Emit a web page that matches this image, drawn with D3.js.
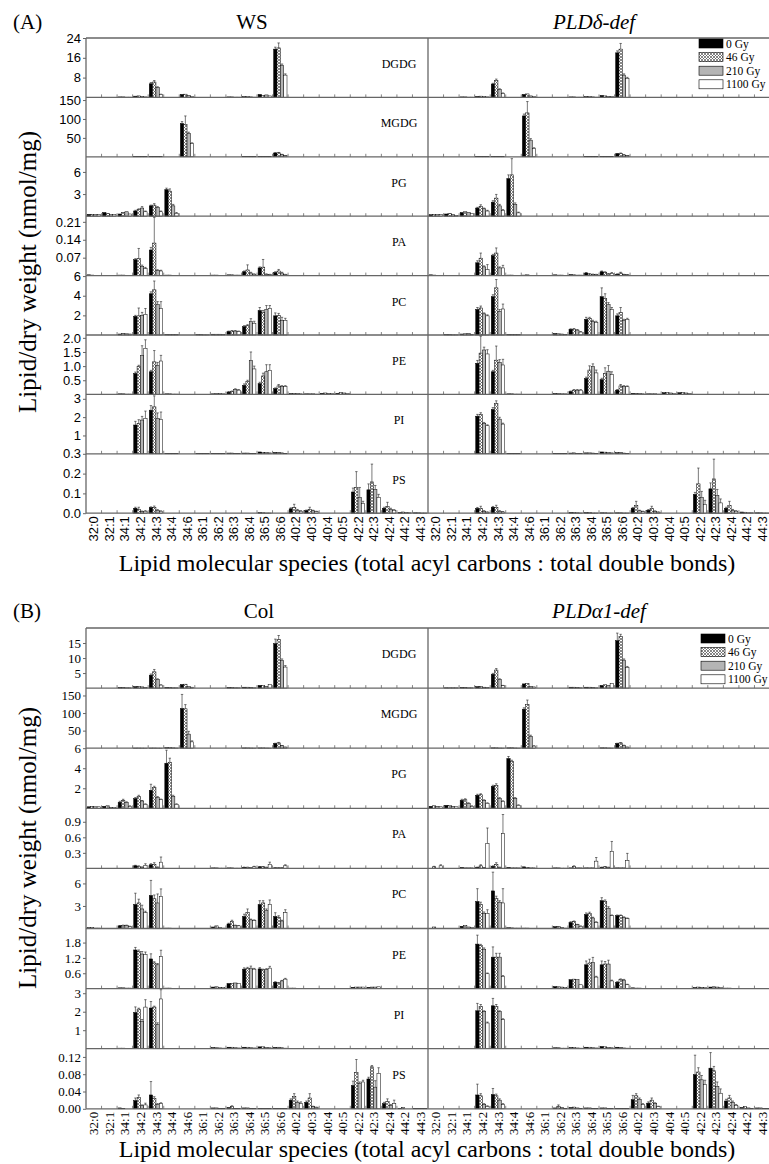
<!DOCTYPE html>
<html><head><meta charset="utf-8">
<script src="https://cdn.jsdelivr.net/npm/d3@7"></script>
<style>body{margin:0;background:#fff}</style>
</head><body><svg id="c" width="769" height="1164"></svg>
<script>
const categories = ["32:0","32:1","34:1","34:2","34:3","34:4","34:6","36:1","36:2","36:3","36:4","36:5","36:6","40:2","40:3","40:4","40:5","42:2","42:3","42:4","44:2","44:3"];
const doses = ["0 Gy","46 Gy","210 Gy","1100 Gy"];
const lipidClasses = ["DGDG","MGDG","PG","PA","PC","PE","PI","PS"];

// rows: [species, 0 Gy, 46 Gy, 210 Gy, 1100 Gy, err0, err46, err210, err1100]
const WS_DGDG = [["34:1",0.2,0.2,0.1,0.1],["34:2",0.5,0.6,0.4,0.2],["34:3",5.5,6.2,4,1.2,0.5,0.6,0.3,0.1],["34:6",1.2,1.3,0.8,0.4],["36:3",0.2,0.2,0.1,0.1],["36:4",0.3,0.3,0.2,0.1],["36:5",1.2,0.8,1.0,0.6],["36:6",19.5,20,13,9,0.8,2,0.5,0.5]];
const PLDd_DGDG = [["34:1",0.2,0.2,0.1,0.1],["34:2",0.4,0.5,0.3,0.2],["34:3",5.4,6.8,3.2,1.6,0.3,0.6,0.3,0.2],["34:6",1.2,1.4,0.6,0.4],["36:3",0.2,0.2,0.1,0.1],["36:4",0.3,0.3,0.2,0.1],["36:5",0.8,0.6,0.4,0.4],["36:6",18,19.5,9,7.7,0.8,2.3,0.5,0.4]];
const WS_MGDG = [["34:2",0.5,0.5,0.3,0.2],["34:3",0.6,0.6,0.4,0.3],["34:6",88,86,62,35,5,22,3,2],["36:4",0.5,0.5,0.4,0.3],["36:5",0.8,0.6,0.5,0.4],["36:6",10,10.5,6,3,1,1,0.5,0.3]];
const PLDd_MGDG = [["34:2",0.5,0.5,0.3,0.2],["34:3",0.6,0.6,0.4,0.3],["34:6",108,116,44,22,5,30,4,2],["36:4",0.5,0.5,0.4,0.3],["36:5",0.8,0.6,0.5,0.4],["36:6",8,9,5,3,0.5,1,0.5,0.3]];
const WS_PG = [["32:0",0.25,0.25,0.2,0.2],["32:1",0.5,0.4,0.2,0.2],["34:1",0.3,0.5,0.6,0.3],["34:2",0.7,0.9,1.1,0.6,0.1,0.1,0.2,0.1],["34:3",1.4,1.5,1.2,0.6,0.1,0.2,0.1,0.1],["34:4",3.6,3.4,1.4,0.4,0.2,0.3,0.2,0.1]];
const PLDd_PG = [["32:0",0.2,0.2,0.2,0.2],["32:1",0.3,0.4,0.2,0.1],["34:1",0.5,0.6,0.5,0.4],["34:2",1.1,1.35,1.0,0.7,0.1,0.2,0.1,0.1],["34:3",1.9,2.45,1.4,0.8,0.2,0.5,0.2,0.1],["34:4",5.1,5.6,1.6,0.45,0.5,2.2,0.2,0.1]];
const WS_PA = [["32:0",0.003,0.002,0,0],["34:1",0.002,0.002,0.001,0.001],["34:2",0.062,0.066,0.036,0.027,0.004,0.04,0.005,0.005],["34:3",0.1,0.127,0.02,0.018,0.01,0.1,0.003,0.003],["34:4",0.002,0.002,0.001,0.001],["36:2",0.002,0.002,0.001,0.001],["36:3",0.003,0.003,0.002,0.002],["36:4",0.015,0.022,0.01,0.005,0.003,0.02,0.003,0.002],["36:5",0.03,0.033,0.005,0.004,0.004,0.03,0.002,0.001],["36:6",0.012,0.018,0.01,0.004,0.003,0.006,0.003,0.001]];
const PLDd_PA = [["32:0",0.003,0.002,0,0],["34:2",0.05,0.068,0.034,0.023,0.008,0.02,0.004,0.02],["34:3",0.078,0.088,0.03,0.03,0.005,0.02,0.004,0.01],["34:4",0.002,0.002,0.001,0.001],["34:6",0.002,0.003,0.001,0.001],["36:2",0.003,0.002,0.002,0.001],["36:3",0.004,0.003,0.002,0.002],["36:4",0.01,0.006,0.005,0.004,0.002,0.002,0.001,0.001],["36:5",0.015,0.012,0.006,0.008,0.003,0.003,0.002,0.004],["36:6",0.005,0.01,0.004,0.003,0.002,0.003,0.001,0.001]];
const WS_PC = [["34:1",0.1,0.15,0.12,0.1],["34:2",1.9,1.95,2.0,2.1,0.1,0.8,0.3,0.6],["34:3",4.2,4.6,3.1,2.7,0.2,0.9,0.3,0.7],["34:4",0.05,0.05,0.03,0.03],["36:1",0.03,0.03,0.02,0.02],["36:2",0.08,0.08,0.08,0.05],["36:3",0.35,0.4,0.4,0.35,0.05,0.05,0.05,0.05],["36:4",0.85,0.95,1.36,1.2,0.1,0.1,0.3,0.2],["36:5",2.5,2.3,2.6,2.7,0.3,0.2,0.4,0.3],["36:6",1.95,2.0,1.5,1.5,0.3,0.2,0.3,0.2]];
const PLDd_PC = [["32:1",0.03,0.03,0.02,0.02],["34:1",0.1,0.12,0.15,0.05],["34:2",2.6,2.75,2.15,1.95,0.2,0.2,0.1,0.1],["34:3",3.9,4.8,2.4,2.65,0.2,0.85,0.2,0.5],["34:4",0.05,0.05,0.03,0.03],["36:2",0.15,0.12,0.1,0.05],["36:3",0.58,0.6,0.5,0.3,0.05,0.05,0.05,0.05],["36:4",1.6,1.7,1.4,1.3,0.2,0.1,0.1,0.1],["36:5",3.9,3.7,3.1,2.6,0.9,0.5,0.2,0.2],["36:6",1.95,2.3,1.5,1.6,0.2,0.5,0.1,0.1]];
const WS_PE = [["34:1",0.02,0.02,0.01,0.01],["34:2",0.74,0.98,1.37,1.63,0.05,0.05,0.35,0.3],["34:3",0.8,1.15,1.03,1.18,0.05,0.4,0.1,0.2],["34:4",0.02,0.02,0.01,0.01],["36:2",0.02,0.03,0.03,0.02],["36:3",0.08,0.1,0.18,0.15,0.02,0.02,0.02,0.02],["36:4",0.32,0.45,1.2,0.9,0.05,0.05,0.3,0.1],["36:5",0.38,0.65,0.8,0.85,0.05,0.1,0.25,0.2],["36:6",0.2,0.3,0.28,0.28,0.03,0.05,0.03,0.03],["40:2",0.03,0.03,0.03,0.02],["40:3",0.02,0.02,0.02,0.01],["40:4",0.04,0.05,0.04,0.03],["40:5",0.04,0.06,0.05,0.04]];
const PLDd_PE = [["34:2",1.1,1.46,1.57,1.43,0.1,0.6,0.1,0.15],["34:3",0.8,1.21,1.13,1.04,0.05,0.5,0.1,0.2],["34:4",0.02,0.02,0.01,0.01],["36:2",0.03,0.03,0.02,0.02],["36:3",0.1,0.15,0.15,0.15,0.02,0.02,0.02,0.02],["36:4",0.56,0.86,0.98,0.76,0.05,0.15,0.1,0.1],["36:5",0.52,0.74,0.82,0.7,0.05,0.2,0.2,0.1],["36:6",0.15,0.3,0.28,0.27,0.02,0.05,0.03,0.03],["40:2",0.04,0.04,0.03,0.02],["40:3",0.02,0.02,0.02,0.01],["40:4",0.06,0.06,0.05,0.04],["40:5",0.06,0.06,0.05,0.04]];
const WS_PI = [["34:2",1.57,1.66,1.84,1.93,0.2,0.2,0.2,0.4],["34:3",2.38,2.56,1.93,1.88,0.25,0.6,0.3,0.4],["34:4",0.02,0.02,0.01,0.01],["36:1",0.01,0.01,0.01,0.01],["36:2",0.02,0.02,0.02,0.02],["36:3",0.04,0.04,0.03,0.03],["36:4",0.04,0.04,0.03,0.03],["36:5",0.1,0.08,0.06,0.05],["36:6",0.07,0.08,0.05,0.03]];
const PLDd_PI = [["34:2",2.05,2.14,1.66,1.53,0.1,0.1,0.05,0.05],["34:3",2.42,2.74,1.89,1.62,0.1,0.15,0.1,0.05],["34:4",0.02,0.02,0.01,0.01],["36:2",0.03,0.03,0.02,0.02],["36:3",0.04,0.05,0.03,0.03],["36:4",0.05,0.05,0.04,0.03],["36:5",0.1,0.09,0.06,0.05],["36:6",0.06,0.07,0.04,0.03]];
const WS_PS = [["34:2",0.025,0.02,0.008,0.01,0.005,0.01,0.003,0.003],["34:3",0.028,0.03,0.015,0.01,0.004,0.006,0.003,0.002],["36:5",0.003,0.002,0.001,0.001],["40:2",0.022,0.03,0.015,0.01,0.005,0.015,0.004,0.003],["40:3",0.013,0.02,0.012,0.008,0.003,0.01,0.003,0.002],["42:2",0.107,0.13,0.08,0.05,0.02,0.08,0.05,0.01],["42:3",0.118,0.158,0.12,0.08,0.03,0.09,0.02,0.015],["42:4",0.025,0.035,0.02,0.015,0.005,0.02,0.005,0.003],["44:2",0.004,0.006,0.003,0.002],["44:3",0.002,0.002,0.001,0.001]];
const PLDd_PS = [["34:2",0.024,0.025,0.01,0.005,0.005,0.01,0.003,0.002],["34:3",0.03,0.03,0.01,0.006,0.004,0.01,0.003,0.002],["36:3",0.004,0.004,0.002,0.001],["36:4",0.003,0.003,0.001,0.001],["36:5",0.002,0.002,0.001,0.001],["36:6",0.002,0.002,0.001,0.001],["40:2",0.025,0.04,0.012,0.008,0.004,0.02,0.003,0.002],["40:3",0.015,0.025,0.01,0.005,0.003,0.01,0.002,0.002],["42:2",0.095,0.148,0.08,0.045,0.01,0.08,0.03,0.02],["42:3",0.123,0.173,0.09,0.052,0.03,0.1,0.03,0.02],["42:4",0.025,0.04,0.015,0.01,0.005,0.02,0.004,0.003],["44:2",0.006,0.005,0.002,0.002],["44:3",0.002,0.002,0.001,0.001]];

const Col_DGDG = [["34:1",0.2,0.2,0.1,0.1],["34:2",0.5,0.6,0.4,0.2],["34:3",4.3,5.4,2.9,1.0,0.4,0.8,0.2,0.1],["34:4",0.2,0.2,0.1,0.1],["34:6",1.2,1.3,0.5,0.3],["36:3",0.2,0.2,0.1,0.1],["36:4",0.3,0.3,0.2,0.1],["36:5",0.9,0.8,0.6,1.2],["36:6",14.8,16.2,9.2,7.0,1.5,1.3,0.5,0.5]];
const PLDa_DGDG = [["32:1",0.1,0.1,0.1,0.1],["34:1",0.2,0.2,0.1,0.1],["34:2",0.5,0.6,0.3,0.2],["34:3",4.6,6.0,2.9,0.8,0.3,0.5,0.2,0.1],["34:6",1.4,1.5,0.6,0.4],["36:3",0.3,0.3,0.2,0.1],["36:4",0.3,0.3,0.2,0.1],["36:5",0.9,1.1,0.9,1.5],["36:6",15.8,17.1,9.3,6.9,2.5,0.8,0.4,0.3]];
const Col_MGDG = [["34:2",0.5,0.5,0.3,0.2],["34:3",0.5,0.5,0.3,0.2],["34:4",1.5,1.5,1.0,0.5],["34:6",113,112,40,18,40,12,8,3],["36:4",0.8,0.8,0.5,0.3],["36:5",0.8,0.8,0.5,0.3],["36:6",13,15,7,3,1,1.5,0.5,0.3]];
const PLDa_MGDG = [["34:3",1,1,0.5,0.3],["34:4",1,1.2,0.6,0.3],["34:6",111,124,34,6,4,13,3,1],["36:5",1,1,0.6,0.3],["36:6",13,15,8,3,1,1,0.5,0.3]];
const Col_PG = [["32:0",0.15,0.2,0.15,0.15],["32:1",0.2,0.25,0.1,0.1],["34:1",0.6,0.8,0.6,0.2,0.1,0.1,0.05,0.05],["34:2",0.97,1.2,0.73,0.4,0.1,0.1,0.05,0.05],["34:3",1.8,2.1,1.07,0.87,0.6,0.1,0.1,0.05],["34:4",4.5,4.6,1.2,0.4,1.3,0.4,0.1,0.05]];
const PLDa_PG = [["32:0",0.2,0.25,0.2,0.15],["32:1",0.3,0.3,0.2,0.15],["34:1",0.8,0.85,0.5,0.2,0.1,0.1,0.05,0.05],["34:2",1.3,1.35,0.8,0.5,0.1,0.1,0.05,0.05],["34:3",2.2,2.3,0.97,0.7,0.1,0.15,0.1,0.05],["34:4",4.97,4.7,0.97,0.3,0.2,0.1,0.1,0.05]];
const Col_PA = [["34:2",0.05,0.04,0.02,0.06,0.01,0.01,0.01,0.03],["34:3",0.07,0.08,0.02,0.12,0.02,0.03,0.01,0.1],["36:2",0.01,0.01,0.005,0.005],["36:3",0.01,0.01,0.005,0.005],["36:4",0.02,0.02,0.01,0.03,0.005,0.005,0.003,0.01],["36:5",0.03,0.03,0.02,0.08,0.005,0.005,0.005,0.04],["36:6",0.01,0.01,0.01,0.05,0.003,0.003,0.003,0.02]];
const PLDa_PA = [["32:0",0,0.03,0,0.05,0,0.01,0,0.02],["34:1",0.02,0.01,0.01,0.01],["34:2",0.02,0.05,0.01,0.48,0.005,0.02,0.005,0.3],["34:3",0.04,0.08,0.02,0.67,0.01,0.03,0.005,0.37],["34:4",0.02,0.01,0.01,0.01],["34:6",0.03,0.02,0.01,0.01],["36:2",0.01,0.01,0.005,0.005],["36:3",0.01,0.04,0.01,0.01,0,0.01,0,0],["36:4",0.01,0.01,0.01,0.14,0,0,0,0.07],["36:5",0.02,0.03,0.02,0.33,0.005,0.005,0.005,0.19],["36:6",0.01,0.01,0.01,0.15,0,0,0,0.14]];
const Col_PC = [["32:0",0.1,0.1,0.05,0.05],["34:1",0.35,0.4,0.4,0.25,0.05,0.05,0.05,0.05],["34:2",3.2,3.4,2.6,2.1,1.5,0.5,0.5,0.2],["34:3",4.4,3.96,3.4,4.27,2.0,0.5,1.2,1.0],["34:4",0.05,0.05,0.03,0.03],["36:2",0.2,0.35,0.1,0.05],["36:3",0.6,0.9,0.4,0.35,0.1,0.2,0.05,0.05],["36:4",1.6,2.1,1.15,1.05,0.3,0.5,0.1,0.1],["36:5",3.2,3.4,2.4,3.2,0.5,0.3,0.2,0.6],["36:6",1.6,1.5,1.0,2.1,0.5,0.2,0.1,0.4]];
const PLDa_PC = [["32:0",0,0.2,0,0],["34:1",0.3,0.4,0.2,0.1],["34:2",3.6,3.2,2.0,2.0,1.7,0.3,0.2,0.5],["34:3",5.0,4.0,3.5,3.4,2.5,0.3,0.2,1.9],["34:4",0.1,0.08,0.05,0.05],["34:6",0.05,0.05,0.03,0.03],["36:2",0.25,0.3,0.15,0.05],["36:3",0.8,0.9,0.5,0.3,0.1,0.1,0.05,0.05],["36:4",1.87,1.97,1.4,0.8,0.2,0.2,0.1,0.1],["36:5",3.7,3.6,2.7,1.7,0.4,0.2,0.2,0.1],["36:6",1.7,1.7,1.45,1.3,0.1,0.1,0.1,0.1]];
const Col_PE = [["34:1",0.03,0.03,0.02,0.02],["34:2",1.51,1.46,1.35,1.33,0.1,0.05,0.1,0.1],["34:3",1.16,1.0,0.93,1.25,0.2,0.05,0.05,0.25],["34:4",0.02,0.02,0.01,0.01],["36:2",0.06,0.07,0.05,0.04],["36:3",0.2,0.2,0.22,0.2],["36:4",0.76,0.78,0.8,0.76,0.05,0.05,0.08,0.03],["36:5",0.77,0.73,0.75,0.8,0.05,0.03,0.03,0.07],["36:6",0.25,0.22,0.3,0.37,0.02,0.02,0.02,0.03],["40:2",0.02,0.02,0.01,0.01],["40:3",0.01,0.01,0.01,0.01],["42:2",0.05,0.06,0.06,0.06],["42:3",0.05,0.06,0.06,0.07],["42:4",0.01,0.01,0.01,0.01]];
const PLDa_PE = [["34:2",1.74,1.68,1.54,0.58,0.35,0.05,0.05,0.03],["34:3",1.23,1.23,1.23,0.48,0.4,0.15,0.15,0.03],["36:2",0.08,0.07,0.06,0.05],["36:3",0.35,0.37,0.35,0.15],["36:4",0.93,1.0,1.02,0.45,0.15,0.15,0.2,0.03],["36:5",0.93,0.96,0.96,0.3,0.15,0.1,0.15,0.03],["36:6",0.25,0.35,0.33,0.15,0.02,0.03,0.03,0.02],["40:2",0.03,0.02,0.02,0.01],["40:3",0.01,0.01,0.01,0.01],["42:2",0.04,0.06,0.05,0.04],["42:3",0.06,0.07,0.06,0.05],["42:4",0.02,0.02,0.01,0.01]];
const Col_PI = [["34:1",0.03,0.03,0.02,0.02],["34:2",1.96,2.14,1.48,2.25,0.3,0.05,0.1,0.4],["34:3",2.2,2.25,1.3,2.69,0.35,0.05,0.1,0.5],["36:2",0.06,0.05,0.04,0.03],["36:3",0.08,0.08,0.05,0.04],["36:4",0.08,0.08,0.05,0.04],["36:5",0.1,0.1,0.06,0.05],["36:6",0.07,0.08,0.05,0.03]];
const PLDa_PI = [["34:2",2.05,2.29,2.0,1.39,0.4,0.1,0.05,0.05],["34:3",2.32,2.29,2.0,1.57,0.4,0.1,0.05,0.05],["36:2",0.05,0.05,0.03,0.03],["36:3",0.06,0.06,0.04,0.03],["36:4",0.08,0.08,0.05,0.04],["36:5",0.12,0.1,0.06,0.05],["36:6",0.08,0.07,0.04,0.03]];
const Col_PS = [["34:1",0.002,0.001,0,0],["34:2",0.019,0.026,0.007,0.009,0.006,0.006,0.002,0.004],["34:3",0.032,0.024,0.01,0.012,0.031,0.004,0.002,0.002],["36:2",0.002,0.002,0.001,0.001],["36:3",0.003,0.005,0.001,0.001,0,0.002,0,0],["36:4",0.002,0.002,0.001,0.001],["36:5",0.001,0.001,0.001,0.001],["36:6",0.001,0.001,0.001,0.001],["40:2",0.02,0.029,0.015,0.012,0.003,0.006,0.003,0.004],["40:3",0.015,0.025,0.005,0.003,0.003,0.01,0.001,0.001],["42:2",0.054,0.084,0.058,0.062,0.01,0.03,0.004,0.004],["42:3",0.069,0.097,0.05,0.082,0.004,0.003,0.015,0.013],["42:4",0.012,0.017,0.008,0.012,0.003,0.006,0.002,0.008],["44:2",0.001,0.003,0,0],["44:3",0.001,0.001,0.001,0.001]];
const PLDa_PS = [["34:2",0.032,0.03,0.01,0.005,0.025,0.005,0.002,0.002],["34:3",0.033,0.03,0.02,0.01,0.014,0.004,0.003,0.002],["36:2",0.002,0.006,0.003,0.001,0,0.003,0,0],["36:3",0.003,0.004,0.002,0.001],["36:4",0.002,0.002,0.001,0.001],["36:5",0.002,0.002,0.001,0.001],["36:6",0.001,0.001,0.001,0.001],["40:2",0.021,0.03,0.022,0.01,0.01,0.005,0.003,0.002],["40:3",0.013,0.02,0.012,0.005,0.003,0.005,0.002,0.001],["42:2",0.079,0.085,0.067,0.056,0.045,0.01,0.01,0.01],["42:3",0.094,0.088,0.052,0.036,0.036,0.01,0.01,0.01],["42:4",0.018,0.025,0.015,0.008,0.004,0.006,0.003,0.002],["44:2",0.003,0.005,0.002,0.001],["44:3",0.002,0.002,0.001,0.001]];

const yMaxA = [24,157,8.05,0.232,6.05,2.1,3.24,0.3];
const yTicksA = [[8,16,24],[50,100,150],[3,6],[0.07,0.14,0.21],[2,4,6],[0.5,1.0,1.5,2.0],[1,2,3],[0,0.1,0.2,0.3]];
const yFmtA = ["d","d","d",".2f","d",".1f","d",".1f"];
const yMaxB = [20,171,6,1.16,8,2.35,3.25,0.139];
const yTicksB = [[5,10,15],[50,100,150],[2,4,6],[0.3,0.6,0.9],[3,6],[0.6,1.2,1.8],[1,2,3],[0,0.04,0.08,0.12]];
const yFmtB = ["d","d","d",".1f","d",".1f","d",".2f"];

const SERIF = "'Liberation Serif','Times New Roman',serif";
const SANS = "'Liberation Sans',Arial,sans-serif";

const panels = [
  {label:"(A)", top:38, h:59.4, titleY:29, tickFont:SANS, legendTop:39, legendX:699, yTitleC:272, xTitleY:571,
   yMax:yMaxA, yTicks:yTicksA, yFmt:yFmtA,
   cols:[{title:"WS", italic:false, tx:252, data:[WS_DGDG,WS_MGDG,WS_PG,WS_PA,WS_PC,WS_PE,WS_PI,WS_PS]},
         {title:"PLDδ-def", italic:true, tx:594, data:[PLDd_DGDG,PLDd_MGDG,PLDd_PG,PLDd_PA,PLDd_PC,PLDd_PE,PLDd_PI,PLDd_PS]}]},
  {label:"(B)", top:628, h:60.1, titleY:618, tickFont:SERIF, legendTop:634, legendX:701, yTitleC:848, xTitleY:1157,
   yMax:yMaxB, yTicks:yTicksB, yFmt:yFmtB,
   cols:[{title:"Col", italic:false, tx:259, data:[Col_DGDG,Col_MGDG,Col_PG,Col_PA,Col_PC,Col_PE,Col_PI,Col_PS]},
         {title:"PLDα1-def", italic:true, tx:599, data:[PLDa_DGDG,PLDa_MGDG,PLDa_PG,PLDa_PA,PLDa_PC,PLDa_PE,PLDa_PI,PLDa_PS]}]}
];

const svg = d3.select("#c");
const defs = svg.append("defs");
const pat = defs.append("pattern").attr("id","xh").attr("patternUnits","userSpaceOnUse").attr("width",3).attr("height",3);
pat.append("rect").attr("width",3).attr("height",3).attr("fill","#fff");
pat.append("path").attr("d","M0,0L3,3M3,0L0,3").attr("stroke","#555").attr("stroke-width",0.7);
const fills = ["#000","url(#xh)","#b4b4b4","#fff"];
const frame = "#666";
const colX = [[86,428],[428,770]];

panels.forEach(p => {
  const g = svg.append("g");
  const n = lipidClasses.length;
  const bottom = p.top + p.h*n;
  g.append("text").attr("x",13).attr("y",p.titleY).attr("font-family",SERIF).attr("font-size",21).text(p.label);
  g.append("text").attr("transform",`translate(36,${p.yTitleC}) rotate(-90)`).attr("text-anchor","middle")
    .attr("font-family",SERIF).attr("font-size",25).text("Lipid/dry weight (nmol/mg)");
  g.append("text").attr("x",427).attr("y",p.xTitleY).attr("text-anchor","middle")
    .attr("font-family",SERIF).attr("font-size",24).text("Lipid molecular species (total acyl carbons : total double bonds)");

  p.cols.forEach((col, ci) => {
    const [xa, xb] = colX[ci];
    const xEdge = d3.scaleBand().domain(categories).range([xa, xb]);
    const x = d3.scaleBand().domain(categories).range([xa, xb]).paddingInner(0.14).paddingOuter(0.07);
    const xs = d3.scaleBand().domain(doses).range([0, x.bandwidth()]);
    g.append("text").attr("x",col.tx).attr("y",p.titleY).attr("text-anchor","middle")
      .attr("font-family",SERIF).attr("font-size",21).attr("font-style",col.italic?"italic":"normal").text(col.title);

    lipidClasses.forEach((lc, li) => {
      const y0 = p.top + li*p.h, y1 = y0 + p.h;
      const y = d3.scaleLinear().domain([0, p.yMax[li]]).range([y1, y0]);
      const fg = g.append("g");
      const rows = col.data[li];
      const bars = [];
      rows.forEach(r => doses.forEach((d,k) => bars.push({cat:r[0], k, v:r[k+1], e:r[k+5]||0})));
      const eb = bars.filter(b => b.e > 0);
      const cx = b => x(b.cat)+xs(doses[b.k])+xs.bandwidth()/2;
      fg.selectAll("line.err").data(eb).join("line").attr("class","err")
        .attr("x1", cx).attr("x2", cx)
        .attr("y1", b => y(b.v)).attr("y2", b => y(b.v+b.e)).attr("stroke","#222").attr("stroke-width",0.6);
      fg.selectAll("line.cap").data(eb).join("line").attr("class","cap")
        .attr("x1", b => cx(b)-1.2).attr("x2", b => cx(b)+1.2)
        .attr("y1", b => y(b.v+b.e)).attr("y2", b => y(b.v+b.e)).attr("stroke","#222").attr("stroke-width",0.6);
      fg.selectAll("rect").data(bars).join("rect")
        .attr("x", b => x(b.cat)+xs(doses[b.k])).attr("width", xs.bandwidth())
        .attr("y", b => y(b.v)).attr("height", b => y(0)-y(b.v))
        .attr("fill", b => fills[b.k]).attr("stroke","#000").attr("stroke-width",0.5);
      fg.selectAll("line.bt").data(categories.slice(1)).join("line").attr("class","bt")
        .attr("x1", c => xEdge(c)).attr("x2", c => xEdge(c)).attr("y1", y1).attr("y2", y1-3)
        .attr("stroke", frame).attr("stroke-width",0.8);
      fg.append("line").attr("x1",xa).attr("x2",xb).attr("y1",y1).attr("y2",y1).attr("stroke",frame).attr("stroke-width",1.3);
      if (li === 0) fg.append("line").attr("x1",xa).attr("x2",xb).attr("y1",y0).attr("y2",y0).attr("stroke",frame).attr("stroke-width",1.3);
      if (ci === 0) {
        const ax = fg.append("g").attr("transform",`translate(${xa},0)`)
          .call(d3.axisLeft(y).tickValues(p.yTicks[li]).tickFormat(d3.format(p.yFmt[li])).tickSize(3).tickPadding(2));
        ax.select(".domain").remove();
        ax.selectAll("line").attr("stroke",frame);
        ax.selectAll("text").attr("font-family",p.tickFont).attr("font-size",13).attr("fill","#000");
        fg.append("text").attr("x",399).attr("y",y0+30).attr("text-anchor","middle")
          .attr("font-family",SERIF).attr("font-size",12).text(lc);
      }
    });
    g.append("line").attr("x1",xa).attr("x2",xa).attr("y1",p.top).attr("y2",bottom).attr("stroke",frame).attr("stroke-width",1.3);
    const xa2 = g.append("g").attr("transform",`translate(0,${bottom})`).call(d3.axisBottom(xEdge).tickSize(0));
    xa2.select(".domain").remove();
    xa2.selectAll("text").attr("transform","rotate(-90)").attr("x",-3).attr("y",0).attr("dy","0.35em")
      .attr("text-anchor","end").attr("font-family",p.tickFont).attr("font-size",13).attr("fill","#000");
    if (ci === 1) {
      const lg = g.append("g");
      doses.forEach((d,k) => {
        const ly = p.legendTop + k*13.6;
        lg.append("rect").attr("x",p.legendX).attr("y",ly).attr("width",24).attr("height",9)
          .attr("fill",fills[k]).attr("stroke","#000").attr("stroke-width",0.6);
        lg.append("text").attr("x",p.legendX+27).attr("y",ly+8.5).attr("font-family",SERIF).attr("font-size",11.5).text(d);
      });
    }
  });
});
</script></body></html>
